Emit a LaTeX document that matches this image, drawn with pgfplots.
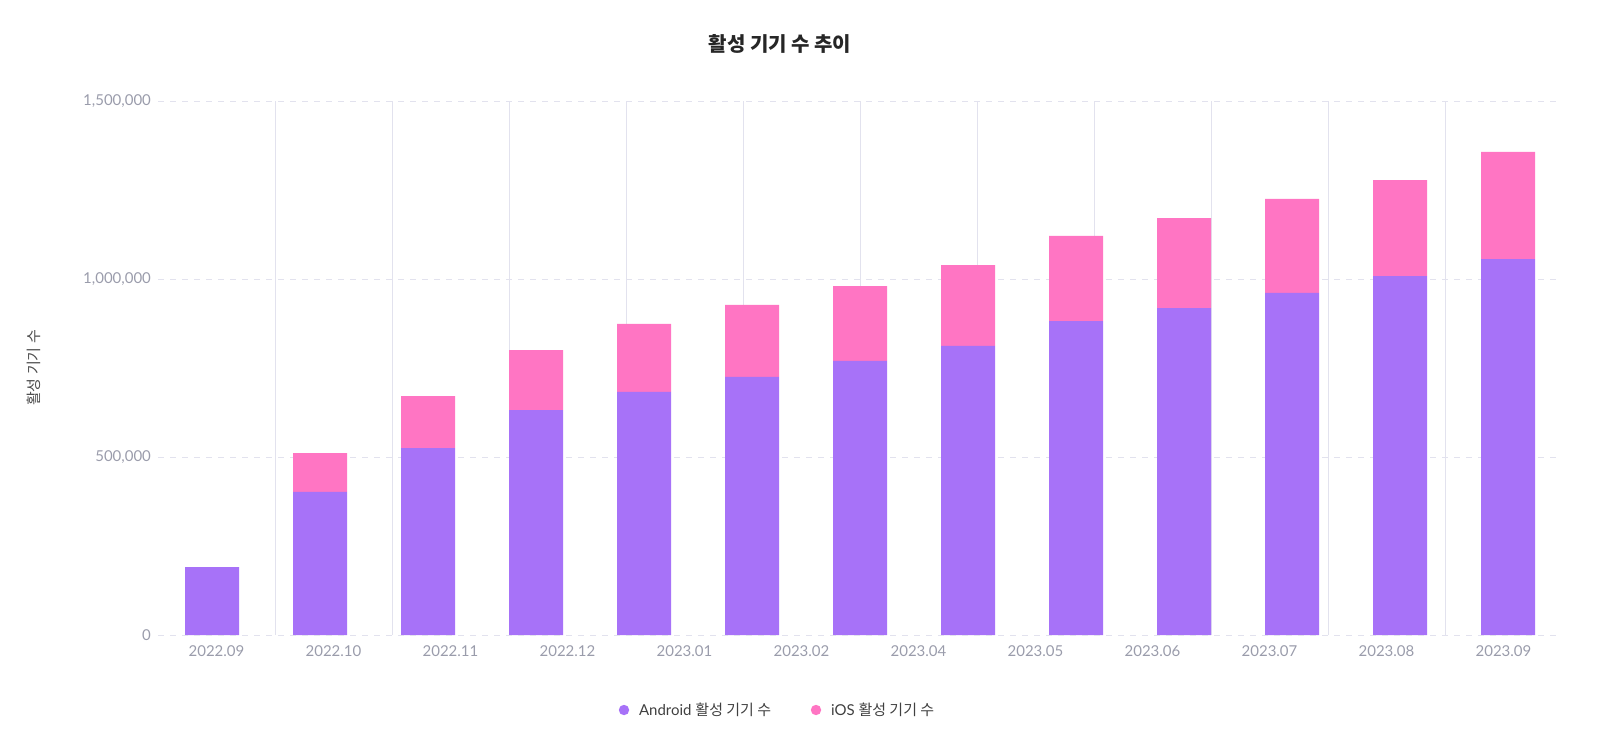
\documentclass[border=0pt]{standalone}
\usepackage{pgfplots}
\pgfplotsset{compat=1.18}
\usepackage{fontspec}
\setmainfont{Lato}
\newfontfamily\kr{Noto Sans CJK KR}
\definecolor{andr}{HTML}{A772F8}
\definecolor{ios}{HTML}{FF75C3}
\definecolor{tickc}{HTML}{9A9CAB}
\definecolor{gridc}{HTML}{E2E2EE}
\begin{document}
\begin{tikzpicture}
\node[font=\kr\bfseries\fontsize{10}{12}\selectfont, text=black!85] at (390pt,-22pt) {활성 기기 수 추이};
\node[rotate=90, font=\kr\fontsize{7.5}{9}\selectfont, text=black!70] at (17pt,-184pt) {활성 기기 수};
\begin{axis}[at={(79pt,-317.5pt)}, anchor=south west, scale only axis,
  width=702pt, height=267pt,
  ybar stacked, bar width=27pt,
  xmin=-0.5, xmax=12.5, ymin=0, ymax=1500000,
  axis line style={draw=none},
  xtick={0.0417,1.125,2.2083,3.2917,4.375,5.4583,6.5417,7.625,8.7083,9.7917,10.875,11.9583},
  xticklabels={2022.09,2022.10,2022.11,2022.12,2023.01,2023.02,2023.04,2023.05,2023.06,2023.07,2023.08,2023.09},
  extra x ticks={0.5833,1.6667,2.75,3.8333,4.9167,6,7.0833,8.1667,9.25,10.3333,11.4167},
  extra x tick labels={},
  extra x tick style={grid=major, major grid style={gridc, solid}},
  ytick={0,500000,1000000,1500000},
  yticklabels={0,{500,000},{1,000,000},{1,500,000}},
  ymajorgrids, major grid style={gridc, dashed},
  tick style={draw=none},
  tick label style={font=\fontsize{7.5}{9}\selectfont, text=tickc},
  /pgf/number format/assume math mode=true,
  xticklabel style={yshift=-2pt},
  scaled y ticks=false,
  clip=false,
]
\draw[gridc, dashed] (axis cs:-0.5,0) -- (axis cs:12.5,0);
\addplot[fill=andr, draw=none] coordinates {(0,191000)(1,402000)(2,525000)(3,632000)(4,683000)(5,725000)(6,770000)(7,812000)(8,882000)(9,918000)(10,961000)(11,1008000)(12,1056000)};
\addplot[fill=ios, draw=none] coordinates {(0,0)(1,109000)(2,146000)(3,168000)(4,191000)(5,202000)(6,210000)(7,227000)(8,239000)(9,253000)(10,264000)(11,270000)(12,301000)};
\end{axis}
\fill[andr] (312pt,-355pt) circle (2.6pt);
\node[anchor=west, font=\fontsize{7.5}{9}\selectfont, text=black!75] at (316pt,-355pt) {Android {\kr 활성 기기 수}};
\fill[ios] (408pt,-355pt) circle (2.6pt);
\node[anchor=west, font=\fontsize{7.5}{9}\selectfont, text=black!75] at (412pt,-355pt) {iOS {\kr 활성 기기 수}};
\pgfresetboundingbox
\path[use as bounding box] (0,0) rectangle (800pt,-374pt);
\end{tikzpicture}
\end{document}
